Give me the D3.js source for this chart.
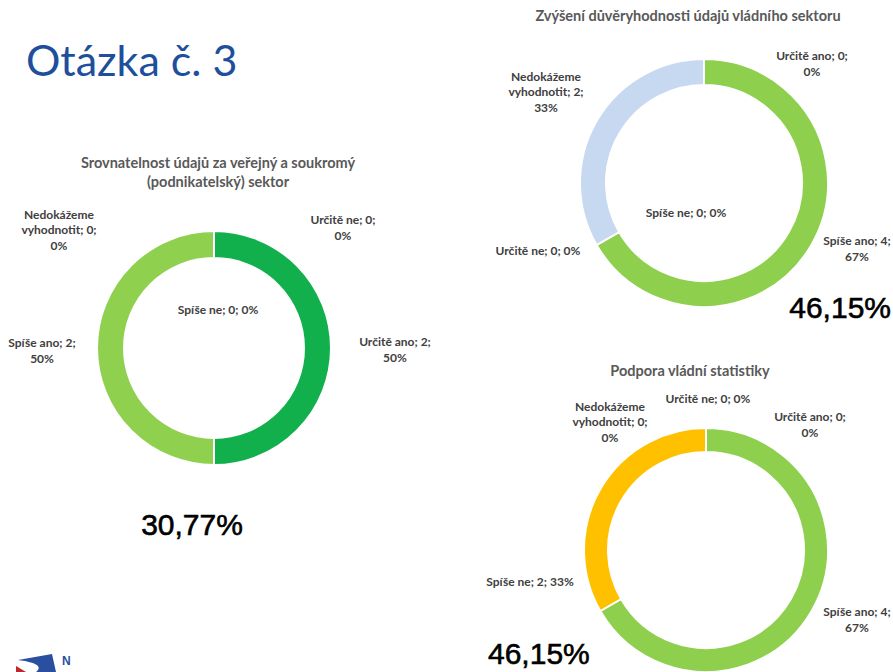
<!DOCTYPE html>
<html lang="cs">
<head>
<meta charset="UTF-8">
<style>
  body { margin: 0; background: #fff; }
  svg { display: block; }
</style>
</head>
<body>
<script src="https://d3js.org/d3.v7.min.js"></script>
<script>
// categories in the order the slices are drawn (clockwise from 12 o'clock)
var categories = ['Určitě ano', 'Spíše ano', 'Spíše ne', 'Určitě ne', 'Nedokážeme vyhodnotit']

// counts per chart
var srovnatelnost = [2, 2, 0, 0, 0]
var duveryhodnost = [0, 4, 0, 0, 2]
var podpora = [0, 4, 2, 0, 0]

var chartTitles = [
    ['Srovnatelnost údajů za veřejný a soukromý', '(podnikatelský) sektor'],
    ['Zvýšení důvěryhodnosti údajů vládního sektoru'],
    ['Podpora vládní statistiky']
]
var totals = ['30,77%', '46,15%', '46,15%']

var svgWidth = 893, svgHeight = 672

var svg = d3.select('body').append('svg')
    .attr('width', svgWidth)
    .attr('height', svgHeight)

// slide heading
svg.append('text')
    .attr('x', 26).attr('y', 76)
    .attr('font-family', 'Lato, "Open Sans", sans-serif')
    .attr('font-size', 43)
    .attr('fill', '#1d4f9c')
    .text('Otázka č. 3')

// layout of each donut: centre, radii, colours, label offsets {dx, dy, wrap}
var charts = [
    {
        data: srovnatelnost, cx: 214, cy: 348, r: 117, ir: 90,
        colors: ['#12b04c', '#8fd14f', '#f79646', '#c0504d', '#c6d9f0'],
        titleY: 168, titleX: 218, total: { x: 192, y: 535, anchor: 'middle' },
        labels: [
            { dx: 181, dy: 2, wrap: 85 },
            { dx: -172, dy: 3, wrap: 80 },
            { dx: 4, dy: -38, wrap: 200 },
            { dx: 129, dy: -120, wrap: 75 },
            { dx: -155, dy: -118, wrap: 85 }
        ]
    },
    {
        data: duveryhodnost, cx: 704, cy: 183, r: 124, ir: 98,
        colors: ['#12b04c', '#8fcf4e', '#ffc000', '#c0504d', '#c6d9f0'],
        titleY: 21, titleX: 688, total: { x: 891, y: 318, anchor: 'end' },
        labels: [
            { dx: 108, dy: -119, wrap: 80 },
            { dx: 153, dy: 66, wrap: 80 },
            { dx: -18, dy: 30, wrap: 200 },
            { dx: -166, dy: 68, wrap: 200 },
            { dx: -158, dy: -91, wrap: 80 }
        ]
    },
    {
        data: podpora, cx: 706, cy: 550, r: 122, ir: 98,
        colors: ['#12b04c', '#8fcf4e', '#ffc000', '#c0504d', '#c6d9f0'],
        titleY: 376, titleX: 690, total: { x: 488, y: 664, anchor: 'start' },
        labels: [
            { dx: 104, dy: -125, wrap: 80 },
            { dx: 151, dy: 70, wrap: 80 },
            { dx: -176, dy: 32, wrap: 200 },
            { dx: 2, dy: -151, wrap: 200 },
            { dx: -96, dy: -128, wrap: 80 }
        ]
    }
]

var pie = d3.pie().sort(null).value(d => d)
var pct = d3.format('.0%')
var labelFont = 'Lato, "Open Sans", sans-serif'
var labelSize = 12

// measure text for wrapping labels the way Excel does
var measurer = svg.append('text')
    .attr('font-family', labelFont).attr('font-size', labelSize).attr('font-weight', 'bold')
    .attr('visibility', 'hidden')
function textWidth(s) {
    measurer.text(s)
    return measurer.node().getComputedTextLength()
}
function wrap(s, w) {
    var words = s.split(' '), lines = [], cur = ''
    words.forEach(word => {
        var test = cur ? cur + ' ' + word : word
        if (cur && textWidth(test) > w) {
            lines.push(cur)
            cur = word
        } else {
            cur = test
        }
    })
    lines.push(cur)
    return lines
}

charts.forEach((c, ci) => {
    var g = svg.append('g').attr('transform', 'translate(' + c.cx + ',' + c.cy + ')')
    var arc = d3.arc().innerRadius(c.ir).outerRadius(c.r)
    var sum = d3.sum(c.data)

    g.selectAll('path')
        .data(pie(c.data))
        .enter().append('path')
        .attr('d', arc)
        .attr('fill', (d, i) => c.colors[i])
        .attr('stroke', '#fff')
        .attr('stroke-width', 2)

    // chart title
    var t = svg.append('text')
        .attr('text-anchor', 'middle')
        .attr('font-family', labelFont)
        .attr('font-size', 14.5)
        .attr('font-weight', 'bold')
        .attr('fill', '#595959')
    chartTitles[ci].forEach((line, li) => {
        t.append('tspan').attr('x', c.titleX).attr('y', c.titleY + li * 19).text(line)
    })

    // data labels
    c.data.forEach((v, i) => {
        var lab = c.labels[i]
        var lines = wrap(categories[i] + '; ' + v + '; ' + pct(v / sum), lab.wrap)
        var lh = 15.5
        var txt = g.append('text')
            .attr('text-anchor', 'middle')
            .attr('font-family', labelFont)
            .attr('font-size', labelSize)
            .attr('font-weight', 'bold')
            .attr('fill', '#404040')
        lines.forEach((line, li) => {
            txt.append('tspan')
                .attr('x', lab.dx)
                .attr('y', lab.dy + (li - (lines.length - 1) / 2) * lh)
                .attr('dy', '0.35em')
                .text(line)
        })
    })

    // big percentage
    svg.append('text')
        .attr('x', c.total.x).attr('y', c.total.y)
        .attr('text-anchor', c.total.anchor)
        .attr('font-family', '"Liberation Sans", Arial, sans-serif')
        .attr('font-size', 30)
        .attr('fill', '#000')
        .attr('stroke', '#000')
        .attr('stroke-width', 0.6)
        .text(totals[ci])
})

measurer.remove()

// logo fragment in the bottom-left corner
var logo = svg.append('g').attr('transform', 'translate(14,650)')
logo.append('path')
    .attr('d', 'M4,10 L38,4 L42,22 L22,22 C30,16 20,12 4,10 Z')
    .attr('fill', '#2b4fa0')
logo.append('path')
    .attr('d', 'M2,16 L12,22 L2,22 Z')
    .attr('fill', '#c0272d')
svg.append('text')
    .attr('x', 62).attr('y', 665)
    .attr('font-family', '"Liberation Sans", Arial, sans-serif')
    .attr('font-size', 12)
    .attr('font-weight', 'bold')
    .attr('fill', '#2b4fa0')
    .text('N')
</script>
</body>
</html>
